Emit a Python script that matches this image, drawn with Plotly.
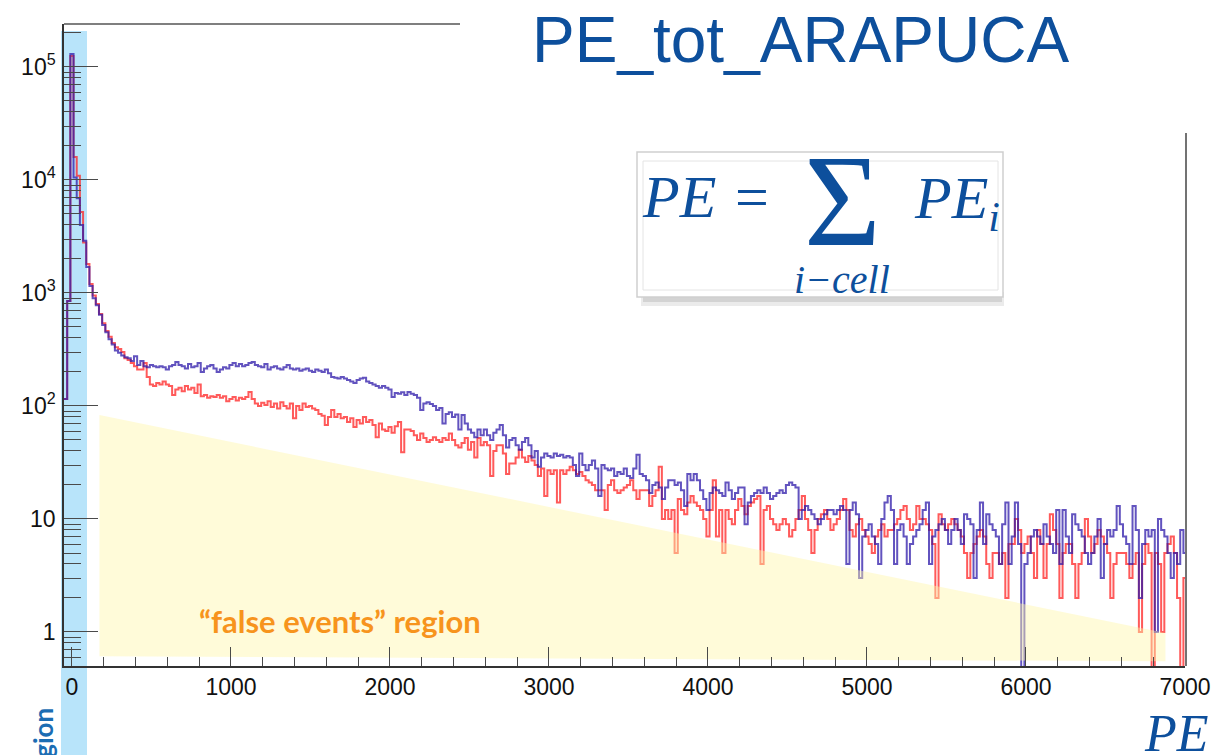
import numpy as np
import plotly.graph_objects as go

# ---------------- data ----------------
bin_start = -50      # PE, left edge of first bin
bin_width = 20       # PE

blue_counts = [
    115, 850, 130000, 10500, 6900, 4000, 2900, 1700, 1150, 900,
    780, 640, 520, 450, 390, 350, 310, 295, 280, 270,
    265, 250, 275, 230, 250, 225, 220, 230, 225, 220,
    225, 220, 210, 225, 230, 245, 230, 225, 215, 235,
    220, 225, 240, 200, 215, 225, 230, 215, 200, 210,
    220, 215, 230, 240, 225, 235, 225, 230, 240, 245,
    230, 225, 220, 235, 210, 220, 225, 215, 210, 220,
    230, 215, 210, 215, 205, 210, 215, 205, 200, 210,
    205, 200, 210, 195, 180, 178, 175, 180, 175, 170,
    165, 160, 170, 175, 178, 165, 160, 155, 150, 145,
    150, 145, 140, 120, 130, 128, 132, 125, 133, 128,
    125, 118, 92, 105, 108, 104, 100, 92, 96, 70,
    85, 88, 80, 84, 62, 83, 70, 62, 58, 53,
    62, 55, 62, 55, 50, 58, 62, 68, 55, 43,
    50, 52, 45, 41, 48, 52, 45, 35, 40, 29,
    35, 38, 36, 35, 38, 36, 37, 35, 36, 35,
    30, 24, 38, 30, 27, 30, 33, 28, 16, 30,
    28, 27, 28, 24, 26, 25, 28, 24, 23, 28,
    37, 25, 24, 22, 17, 20, 21, 19, 15, 19,
    22, 22, 20, 21, 18, 13, 25, 22, 25, 22,
    18, 15, 12, 17, 19, 18, 17, 16, 21, 18,
    15, 17, 19, 19, 9, 14, 16, 17, 18, 17,
    19, 17, 15, 16, 17, 18, 17, 20, 21, 20,
    19, 10, 12, 13, 12, 11, 10, 9, 10, 11,
    12, 12, 11, 12, 13, 12, 4, 12, 14, 11,
    3, 7, 8, 9, 7, 6, 4, 10, 14, 16,
    12, 4, 8, 9, 7, 4, 6, 7, 8, 9,
    12, 14, 4, 7, 8, 9, 10, 8, 6, 8,
    10, 8, 6, 11, 10, 9, 3, 8, 14, 6,
    11, 9, 8, 7, 4, 9, 14, 4, 7, 14,
    6, 0, 4, 5, 7, 8, 7, 6, 9, 7,
    6, 5, 12, 4, 12, 7, 5, 11, 9, 8,
    7, 5, 4, 5, 7, 10, 3, 6, 8, 7,
    8, 13, 9, 7, 6, 4, 13, 8, 2, 6,
    8, 7, 8, 1, 10, 8, 7, 5, 3, 5,
    4, 8, 5,
]

red_counts = [
    115, 850, 125000, 16000, 10900, 5200, 2800, 1800, 1200, 950,
    800, 650, 540, 460, 410, 360, 330, 320, 300, 265,
    255, 240, 225, 210, 210, 240, 180, 155, 150, 160,
    155, 165, 155, 150, 125, 140, 145, 135, 150, 140,
    145, 130, 155, 122, 125, 118, 122, 120, 125, 118,
    122, 110, 115, 120, 112, 118, 115, 120, 133, 115,
    105, 100, 107, 102, 110, 98, 105, 95, 108, 100,
    95, 105, 78, 100, 92, 105, 98, 100, 95, 92,
    85, 82, 68, 80, 92, 80, 85, 78, 80, 72,
    78, 65, 75, 70, 80, 72, 75, 68, 53, 70,
    62, 60, 65, 58, 66, 72, 39, 62, 62, 60,
    55, 50, 57, 52, 48, 50, 53, 50, 48, 52,
    50, 57, 50, 45, 43, 47, 52, 41, 48, 35,
    52, 45, 48, 45, 24, 40, 45, 45, 38, 25,
    31, 31, 35, 41, 35, 32, 36, 33, 30, 24,
    28, 16, 27, 25, 27, 14, 27, 25, 27, 29,
    27, 25, 26, 24, 22, 21, 20, 18, 18, 18,
    12, 20, 22, 18, 17, 18, 19, 20, 22, 18,
    15, 18, 18, 18, 13, 16, 18, 29, 10, 12,
    10, 12, 5, 15, 12, 11, 14, 16, 14, 13,
    12, 10, 7, 12, 22, 7, 12, 5, 12, 10,
    9, 12, 15, 13, 11, 13, 14, 15, 16, 4,
    12, 13, 10, 9, 8, 9, 10, 9, 7, 8,
    10, 12, 16, 10, 8, 5, 8, 10, 11, 12,
    10, 8, 9, 10, 12, 15, 12, 8, 7, 9,
    10, 8, 7, 6, 5, 7, 8, 9, 7, 8,
    8, 9, 10, 12, 13, 10, 8, 9, 13, 10,
    10, 9, 8, 6, 2, 11, 9, 8, 9, 10,
    9, 8, 7, 5, 3, 5, 6, 7, 8, 7,
    4, 3, 5, 5, 4, 5, 2, 6, 6, 10,
    8, 5, 6, 7, 5, 3, 8, 6, 3, 6,
    11, 8, 6, 2, 5, 6, 6, 4, 2, 4,
    5, 10, 7, 5, 6, 8, 7, 6, 5, 2,
    4, 5, 5, 5, 4, 3, 4, 5, 1, 4,
    6, 5, 0, 5, 4, 1, 5, 6, 7, 5,
    2, 0, 3,
]

# "false events" region corners (PE, counts)
false_region_x = [173, 6877, 6877, 173]
false_region_y = [83, 0.98, 0.55, 0.61]

x_tick_vals = [0, 1000, 2000, 3000, 4000, 5000, 6000, 7000]
x_tick_text = ["0", "1000", "2000", "3000", "4000", "5000", "6000", "7000"]
y_tick_vals = [1, 10, 100, 1000, 10000, 100000]
y_tick_text = ["1", "10", "10<sup>2</sup>", "10<sup>3</sup>", "10<sup>4</sup>", "10<sup>5</sup>"]

# ---------------- figure ----------------
W, H = 1215, 755
L, R, T, B = 64, 30, 24, 89
PW, PH = W - L - R, H - T - B


def px(x):
    return (x - L) / PW


def py(y):
    return (H - B - y) / PH


def step_xy(counts):
    c = np.asarray(counts, dtype=float)
    c = np.where(c > 0, c, 0.3)  # empty bins drop below the axis floor
    edges = bin_start + bin_width * np.arange(len(c) + 1)
    return edges, np.append(c, c[-1])


fig = go.Figure()

rx, ry = step_xy(red_counts)
fig.add_trace(go.Scatter(x=rx, y=ry, mode="lines", line=dict(color="rgba(255,35,35,0.75)", width=2, shape="hv"),
                         hoverinfo="skip", showlegend=False))
bx, by = step_xy(blue_counts)
fig.add_trace(go.Scatter(x=bx, y=by, mode="lines", line=dict(color="rgba(45,25,170,0.75)", width=2, shape="hv"),
                         hoverinfo="skip", showlegend=False))

fig.add_trace(go.Scatter(x=false_region_x, y=false_region_y, mode="lines", fill="toself",
                         fillcolor="rgba(255,247,170,0.45)", line=dict(width=0),
                         hoverinfo="skip", showlegend=False))

tick_col = "#4a4a4a"
fig.update_xaxes(range=[-50, 7000], showline=True, linecolor="#333", linewidth=1.5, mirror=False,
                 automargin=False,
                 ticks="inside", ticklen=19, tickwidth=1.3, tickcolor=tick_col,
                 tickvals=x_tick_vals, ticktext=x_tick_text,
                 minor=dict(ticks="inside", ticklen=9, tickwidth=1.3, tickcolor=tick_col, dtick=200, tick0=0),
                 showgrid=False, zeroline=False,
                 tickfont=dict(family="Liberation Sans, Arial", size=23, color="#111"))
fig.update_yaxes(type="log", range=[-0.301, 5.38], showline=True, linecolor="#333", linewidth=1.5, mirror=False,
                 automargin=False,
                 ticks="inside", ticklen=34, tickwidth=1.3, tickcolor=tick_col,
                 tickvals=y_tick_vals, ticktext=y_tick_text, ticklabelstandoff=2,
                 minor=dict(ticks="inside", ticklen=17, tickwidth=1.3, tickcolor=tick_col,
                            tickvals=[m * 10.0 ** e for e in range(-1, 6) for m in range(2, 10)]),
                 showgrid=False, zeroline=False,
                 tickfont=dict(family="Liberation Sans, Arial", size=23, color="#111"))

shapes = [
    # blue "region" band
    dict(type="rect", xref="paper", yref="paper", x0=px(61), x1=px(87), y0=py(760), y1=py(31),
         fillcolor="rgb(184,228,250)", line=dict(width=0), layer="below"),
    # partial frame lines
    dict(type="line", xref="paper", yref="paper", x0=px(64), x1=px(460), y0=py(24), y1=py(24),
         line=dict(color="#555", width=1.5), layer="above"),
    dict(type="line", xref="paper", yref="paper", x0=px(1186), x1=px(1186), y0=py(133), y1=py(666),
         line=dict(color="#444", width=1.5), layer="above"),
    # formula box shadow + box
    dict(type="rect", xref="paper", yref="paper", x0=px(641), x1=px(1004), y0=py(306), y1=py(292),
         fillcolor="rgba(0,0,0,0.08)", line=dict(width=0), layer="above"),
    dict(type="rect", xref="paper", yref="paper", x0=px(643), x1=px(1002), y0=py(302), y1=py(292),
         fillcolor="rgba(0,0,0,0.10)", line=dict(width=0), layer="above"),
    dict(type="rect", xref="paper", yref="paper", x0=px(637), x1=px(1003), y0=py(297), y1=py(152),
         fillcolor="white", line=dict(color="#cfcfcf", width=1.5), layer="above"),
    dict(type="rect", xref="paper", yref="paper", x0=px(643), x1=px(998), y0=py(290), y1=py(161),
         fillcolor="rgba(0,0,0,0)", line=dict(color="#e4e4e4", width=1), layer="above"),
]

dark_blue = "#0d4f9c"
serif = "Liberation Serif, Times New Roman, serif"
ann = [
    dict(text="PE_tot_ARAPUCA", x=px(800), y=py(40), font=dict(family="Liberation Sans, Arial", size=64, color=dark_blue)),
    dict(text="<i>PE</i>", x=px(679), y=py(197), font=dict(family=serif, size=60, color=dark_blue)),
    dict(text="=", x=px(752), y=py(197), font=dict(family=serif, size=60, color=dark_blue)),
    dict(text="Σ", x=px(842), y=py(201), font=dict(family=serif, size=132, color=dark_blue)),
    dict(text="<i>PE<sub>i</sub></i>", x=px(912), y=py(203), xanchor="left",
         font=dict(family=serif, size=60, color=dark_blue)),
    dict(text="<i>i−cell</i>", x=px(842), y=py(279), font=dict(family=serif, size=40, color=dark_blue)),
    dict(text="“false events” region", x=px(340), y=py(621),
         font=dict(family="Lato, Open Sans, sans-serif", size=31, color="#f7941d", weight="bold")),
    dict(text="<i>PE</i>", x=px(1176), y=py(733), font=dict(family=serif, size=52, color=dark_blue)),
    dict(text="<b>region</b>", x=px(43), y=py(745), textangle=-90,
         font=dict(family="Lato, Open Sans, sans-serif", size=26, color="#1b6db3")),
]
for a in ann:
    a.setdefault("xanchor", "center")
    a.setdefault("yanchor", "middle")
    a.update(xref="paper", yref="paper", showarrow=False)

fig.update_layout(width=W, height=H, margin=dict(l=L, r=R, t=T, b=B),
                  paper_bgcolor="white", plot_bgcolor="white",
                  shapes=shapes, annotations=ann, showlegend=False)

fig.write_html("out.html")
